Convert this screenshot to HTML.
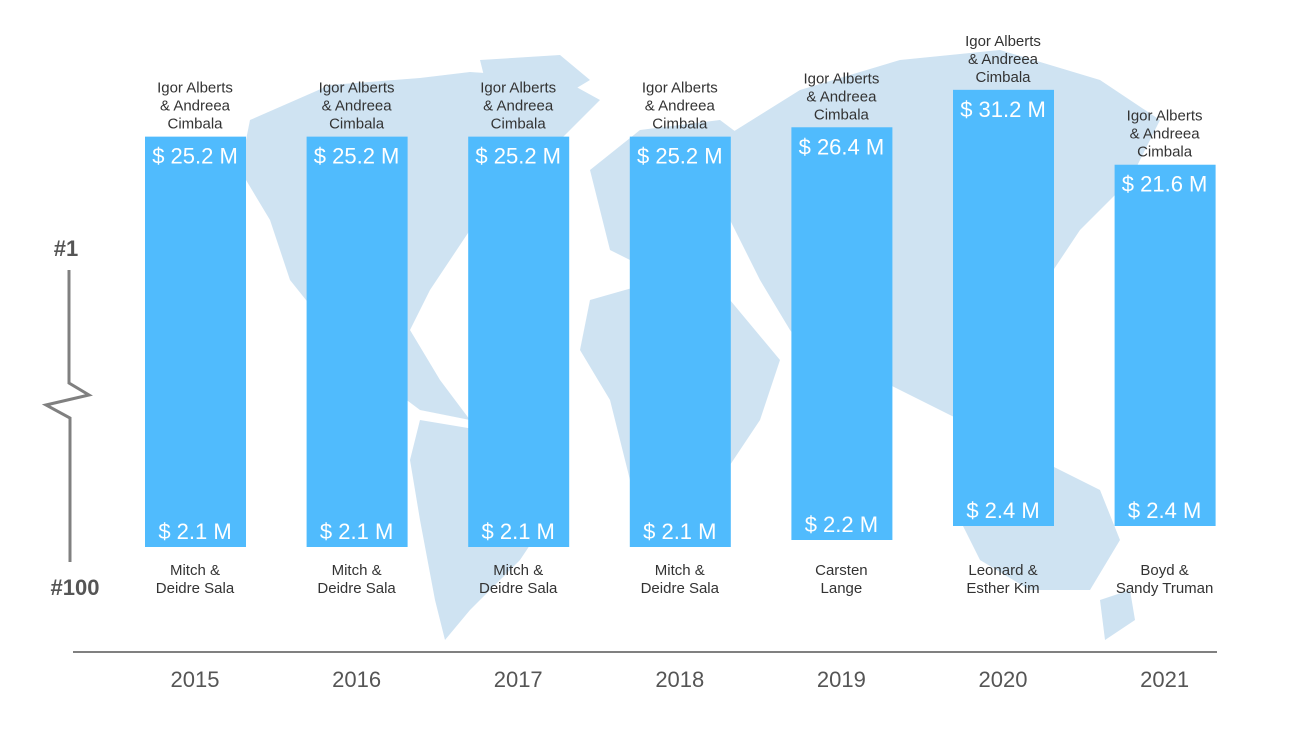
<!DOCTYPE html>
<html><head><meta charset="utf-8">
<style>
html,body{margin:0;padding:0;background:#fff;}
svg{display:block;font-family:"Liberation Sans",sans-serif;}
</style></head>
<body>
<svg id="chart" width="1302" height="732" viewBox="0 0 1302 732" xmlns="http://www.w3.org/2000/svg">
<g fill="#cfe3f2">
<path d="M250,120 L330,85 L420,78 L470,72 L560,78 L600,100 L560,140 L520,190 L470,230 L430,290 L410,330 L440,380 L470,420 L420,410 L380,380 L330,330 L290,280 L270,220 L240,170 Z"/>
<path d="M420,420 L480,430 L540,460 L560,500 L520,560 L470,610 L445,640 L435,600 L420,520 L410,460 Z"/>
<path d="M590,170 L640,130 L720,120 L760,150 L740,200 L700,250 L650,270 L610,250 L600,210 Z"/>
<path d="M590,300 L660,280 L730,300 L780,360 L760,420 L720,480 L690,540 L650,545 L630,480 L610,400 L580,350 Z"/>
<path d="M720,140 L800,90 L900,60 L1000,50 L1100,80 L1160,120 L1130,180 L1080,230 L1040,290 L1000,360 L960,420 L920,400 L880,380 L830,380 L790,330 L760,280 L730,220 Z"/>
<path d="M970,470 L1040,460 L1100,490 L1120,540 L1090,590 L1030,590 L980,560 L960,520 Z"/>
<path d="M1100,600 L1130,590 L1135,620 L1105,640 Z"/>
<path d="M480,60 L560,55 L590,80 L540,110 L490,100 Z"/>
</g>
<g id="bars"></g>
<g stroke="#808080" stroke-width="3" fill="none">
<path d="M69,270 L69,383 L89,395 L46,405 L70,418 L70,562"/>
</g>
<text x="66" y="256" text-anchor="middle" font-size="22" font-weight="bold" fill="#555">#1</text>
<text x="75" y="595" text-anchor="middle" font-size="22" font-weight="bold" fill="#555">#100</text>
<line x1="73" y1="652" x2="1217" y2="652" stroke="#808080" stroke-width="2"/>
</svg>
<script>
const years = ["2015","2016","2017","2018","2019","2020","2021"];
const topValues = [25.2,25.2,25.2,25.2,26.4,31.2,21.6];
const bottomValues = [2.1,2.1,2.1,2.1,2.2,2.4,2.4];
const topNames = [["Igor Alberts","& Andreea","Cimbala"],["Igor Alberts","& Andreea","Cimbala"],["Igor Alberts","& Andreea","Cimbala"],["Igor Alberts","& Andreea","Cimbala"],["Igor Alberts","& Andreea","Cimbala"],["Igor Alberts","& Andreea","Cimbala"],["Igor Alberts","& Andreea","Cimbala"]];
const bottomNames = [["Mitch  &","Deidre Sala"],["Mitch  &","Deidre Sala"],["Mitch  &","Deidre Sala"],["Mitch  &","Deidre Sala"],["Carsten","Lange"],["Leonard &","Esther Kim"],["Boyd &","Sandy Truman"]];

const NS="http://www.w3.org/2000/svg";
const g=document.getElementById('bars');
const xCenter=i=>195+i*161.6;
const yTop=v=>146-(v-24)*7.8;
const yBot=v=>547-(v-2.1)*70;
function mk(tag,attrs,parent){const e=document.createElementNS(NS,tag);for(const k in attrs)e.setAttribute(k,attrs[k]);parent.appendChild(e);return e;}
years.forEach((yr,i)=>{
  const cx=xCenter(i), t=yTop(topValues[i]), b=yBot(bottomValues[i]);
  const r=mk('rect',{x:cx-50,y:t,width:101,height:b-t,fill:'#50bbfd'},g);
  
  
  const tv=mk('text',{x:cx,y:t+27,'text-anchor':'middle','font-size':22,fill:'#fff'},g);
  tv.textContent='$ '+topValues[i].toFixed(1)+' M';
  
  
  const bv=mk('text',{x:cx,y:b-8,'text-anchor':'middle','font-size':22,fill:'#fff'},g);
  bv.textContent='$ '+bottomValues[i].toFixed(1)+' M';
  
  
  topNames[i].forEach((ln,j)=>{
    const tn=mk('text',{x:cx,y:t-44+j*18,'text-anchor':'middle','font-size':15,fill:'#333'},g);
    tn.textContent=ln;
    
    
  });
  bottomNames[i].forEach((ln,j)=>{
    const bn=mk('text',{x:cx,y:Math.max(575,b+28)+j*18,'text-anchor':'middle','font-size':15,fill:'#333'},g);
    bn.textContent=ln;
    
    
  });
  const yl=mk('text',{x:cx,y:687,'text-anchor':'middle','font-size':22,fill:'#555'},g);
  yl.textContent=yr;
  
  
});
</script>
</body></html>
